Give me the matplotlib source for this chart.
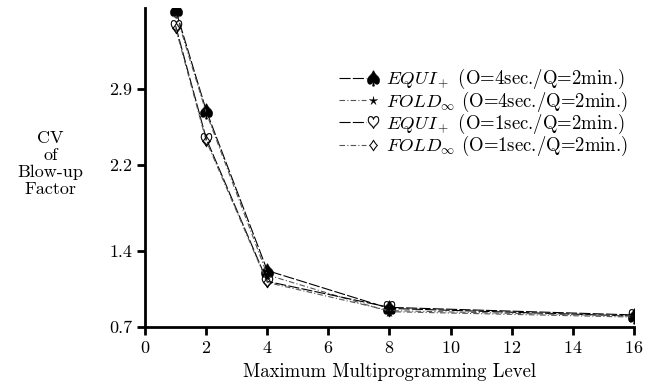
import matplotlib
matplotlib.use('Agg')
import matplotlib.pyplot as plt
from matplotlib.lines import Line2D
from matplotlib.legend_handler import HandlerLine2D

plt.rcParams['font.family'] = 'serif'
plt.rcParams['font.serif'] = ['cmr10', 'DejaVu Serif']
plt.rcParams['mathtext.fontset'] = 'cm'
plt.rcParams['axes.formatter.use_mathtext'] = True

mpl_levels = [1, 2, 4, 8, 16]
equi_4s = [3.63, 2.70, 1.22, 0.87, 0.80]
fold_4s = [3.60, 2.68, 1.18, 0.84, 0.79]
equi_1s = [3.48, 2.44, 1.12, 0.88, 0.81]
fold_1s = [3.46, 2.42, 1.11, 0.85, 0.80]

labels = [r'$EQUI_+$ (O=4sec./Q=2min.)',
          r'$FOLD_\infty$ (O=4sec./Q=2min.)',
          r'$EQUI_+$ (O=1sec./Q=2min.)',
          r'$FOLD_\infty$ (O=1sec./Q=2min.)']


# legend sample: short line with the marker at its right end
class EndMarker(HandlerLine2D):
    def create_artists(self, legend, orig_handle, xdescent, ydescent,
                       width, height, fontsize, trans):
        y = height / 2 - ydescent
        line = Line2D([-xdescent, -xdescent + width * 0.8], [y, y])
        self.update_prop(line, orig_handle, legend)
        line.set_marker('None')
        mark = Line2D([-xdescent + width], [y])
        self.update_prop(mark, orig_handle, legend)
        mark.set_linestyle('None')
        line.set_transform(trans)
        mark.set_transform(trans)
        return [line, mark]


fig, ax = plt.subplots(figsize=(6.48, 3.90), dpi=100)
fig.subplots_adjust(left=0.224, right=0.978, top=0.98, bottom=0.162)

ax.plot(mpl_levels, equi_4s, color='black', lw=0.8, ls=(0, (10, 2)),
        marker=r'$\spadesuit$', ms=11, mfc='black', mec='black', mew=0.5,
        label=labels[0])
ax.plot(mpl_levels, fold_4s, color='#555555', lw=0.8, ls=(0, (5, 2, 1, 2)),
        marker=r'$\star$', ms=6, mfc='black', mec='black', mew=0.3,
        label=labels[1])
ax.plot(mpl_levels, equi_1s, color='black', lw=0.8, ls=(0, (10, 2)),
        marker=r'$\heartsuit$', ms=9, mfc='black', mec='black', mew=0.3,
        label=labels[2])
ax.plot(mpl_levels, fold_1s, color='#555555', lw=0.8, ls=(0, (5, 2, 1, 2)),
        marker=r'$\diamondsuit$', ms=8, mfc='black', mec='black', mew=0.3,
        label=labels[3])

ax.set_xlim(0, 16)
ax.set_ylim(0.7, 3.65)
ax.set_xticks([0, 2, 4, 6, 8, 10, 12, 14, 16])
ax.set_yticks([0.7, 1.4, 2.2, 2.9])
ax.set_yticklabels(['0.7', '1.4', '2.2', '2.9'])
ax.spines['top'].set_visible(False)
ax.spines['right'].set_visible(False)
ax.spines['left'].set_linewidth(2)
ax.spines['bottom'].set_linewidth(2)
ax.tick_params(direction='out', length=6, width=2, labelsize=13)

ax.set_xlabel('Maximum Multiprogramming Level', fontsize=13.5, labelpad=5)
fig.text(0.078, 0.58, 'CV\nof\nBlow-up\nFactor', ha='center', va='center',
         fontsize=13, linespacing=1.15)

ax.legend(loc='upper right', bbox_to_anchor=(1.015, 0.855), frameon=False,
          fontsize=13.5, handlelength=1.8, handletextpad=0.7,
          labelspacing=-0.1, borderpad=0.2, numpoints=1,
          handler_map={Line2D: EndMarker()})

plt.savefig('out.png')
